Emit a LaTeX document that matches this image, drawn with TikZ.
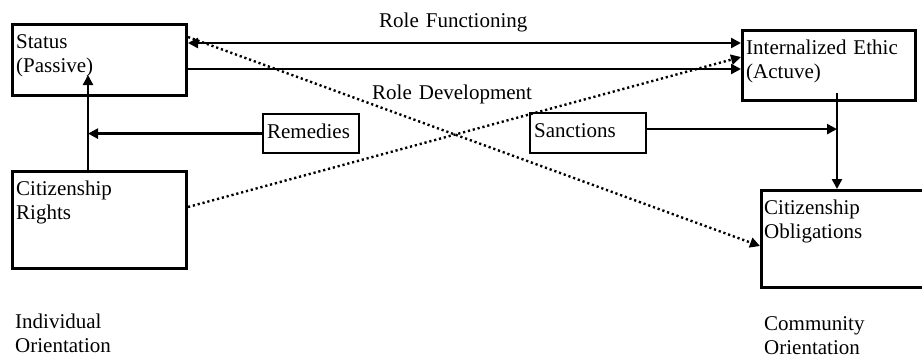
\documentclass[tikz,border=0pt]{standalone}
\usepackage{fontspec}
\setmainfont{Liberation Serif}
\usetikzlibrary{calc,arrows.meta}

\newcommand\diagfont{\fontsize{21}{24.5}\selectfont}
\tikzset{
  tip/.style={-{Triangle[length=10pt,width=10pt]}},
  bigbox/.style={draw, line width=3pt, anchor=north west, inner sep=0pt},
  boxtext/.style={anchor=base west, inner sep=0pt, text width=168pt, align=left, font=\diagfont},
  smallbox/.style={draw, line width=2.2pt, anchor=north west, inner xsep=4pt, inner ysep=0pt,
    text height=14pt, text depth=5pt, align=left, font=\diagfont},
  plain/.style={anchor=base west, inner sep=0pt, text width=160pt, align=left, font=\diagfont},
  link/.style={line width=2.4pt, tip},
  hint/.style={line width=2.4pt, dash pattern=on 2.2pt off 2.8pt, tip},
}

\begin{document}
\begin{tikzpicture}[x=1pt, y=-1pt]
    \clip (0,0) rectangle (922,360);
    % boxes
    \node[bigbox, minimum width=174pt, minimum height=71pt] (status) at (11,23) {};
    \node[bigbox, minimum width=173pt, minimum height=70pt] (ethic) at (741,29) {};
    \node[bigbox, minimum width=174pt, minimum height=97pt] (rights) at (11,170) {};
    \node[bigbox, minimum width=180pt, minimum height=97pt] (oblig) at (760,189) {};
    \node[boxtext] (statustext) at ([shift={(5,25)}]status.north west) {Status\\(Passive)};
    \node[boxtext] (ethictext) at ([shift={(5,25)}]ethic.north west) {Internalized Ethic\\(Actuve)};
    \node[boxtext] (rightstext) at ([shift={(5,25)}]rights.north west) {Citizenship\\Rights};
    \node[boxtext] (obligtext) at ([shift={(4,25)}]oblig.north west) {Citizenship\\Obligations};
    \node[smallbox, text width=88pt, minimum height=39pt] (remedies) at (262,113) {Remedies};
    \node[smallbox, text width=108pt, minimum height=40pt] (sanctions) at (529,112) {Sanctions};

    % labels
    \node[plain] (rolefun) at (379,27) {Role Functioning};
    \node[plain] (roledev) at (372,99) {Role Development};
    \node[plain] (indiv) at (15,328) {Individual\\Orientation};
    \node[plain] (commun) at (764,330) {Community\\Orientation};

    % connectors
    \coordinate (rfL) at ([yshift=-20pt]status.north east);
    \coordinate (rdL) at ([yshift=-46pt]status.north east);
    \coordinate (riseTop) at ([xshift=77pt,yshift=-52pt]status.north west);
    \coordinate (dropTop) at ([xshift=96pt,yshift=-64pt]ethic.north west);
\draw[link, {Triangle[length=10pt,width=10pt]}-{Triangle[length=10pt,width=10pt]}]
    (rfL) -- (rfL -| ethic.west);
\draw[link] (rdL) -- (rdL -| ethic.west);
\draw[hint] ([yshift=-14pt]status.north east) -- ([yshift=-57pt]oblig.north west);
\draw[hint] ([yshift=-37pt]rights.north east) -- ([yshift=-28pt]ethic.north west);
\draw[link] (riseTop |- rights.north) -- (riseTop);
\draw[link] (remedies.west) -- (remedies.west -| riseTop);
\draw[link] ([yshift=4pt]sanctions.east) -- ([yshift=4pt]sanctions.east -| dropTop);
\draw[link] (dropTop) -- (dropTop |- oblig.north);
\end{tikzpicture}
\end{document}
